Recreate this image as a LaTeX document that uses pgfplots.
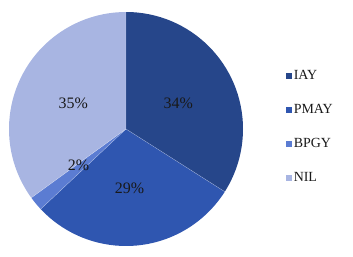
\documentclass[border=0pt]{standalone}
\usepackage{pgfplots}
\pgfplotsset{compat=1.18}
\usepackage{pgfplotstable}
\usepackage{fontspec}
\setmainfont{Liberation Serif}
\definecolor{cIAY}{HTML}{26468A}
\definecolor{cPMAY}{HTML}{2F56B0}
\definecolor{cBPGY}{HTML}{5B7CD2}
\definecolor{cNIL}{HTML}{A8B5E2}
\pgfplotstableread{
name value lx ly
IAY 34 0.447 0.222
PMAY 29 0.03 -0.506
BPGY 2 -0.405 -0.305
NIL 35 -0.45 0.222
}\pietable
\pgfplotstablegetelem{0}{value}\of\pietable \let\va\pgfplotsretval
\pgfplotstablegetelem{1}{value}\of\pietable \let\vb\pgfplotsretval
\pgfplotstablegetelem{2}{value}\of\pietable \let\vc\pgfplotsretval
\pgfplotstablegetelem{3}{value}\of\pietable \let\vd\pgfplotsretval
\pgfmathsetmacro\aA{90}
\pgfmathsetmacro\aB{\aA-3.6*\va}
\pgfmathsetmacro\aC{\aB-3.6*\vb}
\pgfmathsetmacro\aD{\aC-3.6*\vc}
\pgfmathsetmacro\aE{\aD-3.6*\vd}
\begin{document}
\begin{tikzpicture}
\begin{axis}[
  x=117bp, y=117bp,
  xmin=-1.0769, xmax=1.9402, ymin=-1.0855, ymax=1.1026,
  hide axis, clip=false,
  legend style={draw=none, fill=none, at={(axis cs:1.363,0.514)}, anchor=north west,
    font=\fontsize{14}{16}\selectfont, row sep=20.3bp, inner sep=0pt, column sep=1bp,
    nodes={inner sep=1.5pt}, text=black!90},
  legend cell align=left,
]
\addlegendimage{legend image code/.code={\fill[cIAY] (0,-2.6bp) rectangle (5.2bp,2.6bp);}}
\addlegendentry{IAY}
\addlegendimage{legend image code/.code={\fill[cPMAY] (0,-2.6bp) rectangle (5.2bp,2.6bp);}}
\addlegendentry{PMAY}
\addlegendimage{legend image code/.code={\fill[cBPGY] (0,-2.6bp) rectangle (5.2bp,2.6bp);}}
\addlegendentry{BPGY}
\addlegendimage{legend image code/.code={\fill[cNIL] (0,-2.6bp) rectangle (5.2bp,2.6bp);}}
\addlegendentry{NIL}
\fill[cIAY] (axis cs:0,0) -- (axis cs:{cos(\aA)},{sin(\aA)}) arc[start angle=\aA, end angle=\aB, radius=117bp] -- cycle;
\fill[cPMAY] (axis cs:0,0) -- (axis cs:{cos(\aB)},{sin(\aB)}) arc[start angle=\aB, end angle=\aC, radius=117bp] -- cycle;
\fill[cBPGY] (axis cs:0,0) -- (axis cs:{cos(\aC)},{sin(\aC)}) arc[start angle=\aC, end angle=\aD, radius=117bp] -- cycle;
\fill[cNIL] (axis cs:0,0) -- (axis cs:{cos(\aD)},{sin(\aD)}) arc[start angle=\aD, end angle=\aE, radius=117bp] -- cycle;
\draw[white, opacity=0.4, line width=0.4pt] (axis cs:{cos(\aA)},{sin(\aA)}) -- (axis cs:0,0) -- (axis cs:{cos(\aB)},{sin(\aB)});
\draw[white, opacity=0.4, line width=0.4pt] (axis cs:0,0) -- (axis cs:{cos(\aC)},{sin(\aC)});
\draw[white, opacity=0.4, line width=0.4pt] (axis cs:0,0) -- (axis cs:{cos(\aD)},{sin(\aD)});
\begin{scope}[every node/.style={font=\fontsize{16}{19}\selectfont, text=black!90}]
\node at (axis cs:0.447,0.222) {34\%};
\node at (axis cs:0.03,-0.506) {29\%};
\node at (axis cs:-0.405,-0.31) {2\%};
\node at (axis cs:-0.45,0.222) {35\%};
\end{scope}
\end{axis}
\pgfresetboundingbox
\path (current axis.south west) rectangle (current axis.north east);
\end{tikzpicture}
\end{document}
